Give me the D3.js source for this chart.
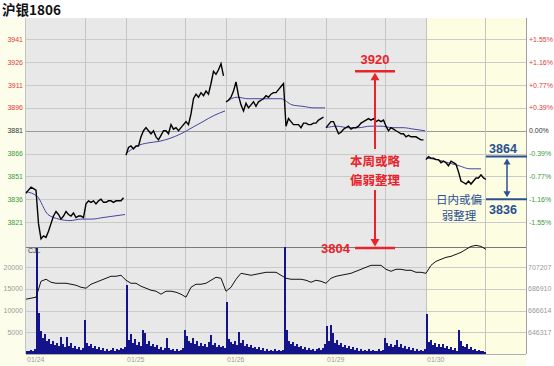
<!DOCTYPE html>
<html>
<head>
<meta charset="utf-8">
<script src="https://cdn.jsdelivr.net/npm/d3@7/dist/d3.min.js"></script>
<style>
  body { margin: 0; background: #fff; }
  svg { display: block; font-family: "Liberation Sans", Arial, sans-serif; }
</style>
</head>
<body>
<svg id="chart" width="554" height="366"></svg>
<script>
  // ---- data ----
  var days = ["01/24", "01/25", "01/26", "01/29", "01/30"];
  var prevClose = 3881;
  var priceTicks = [3821, 3836, 3851, 3866, 3881, 3896, 3911, 3926, 3941];
  var pctLabels = ["-1.55%", "-1.16%", "-0.77%", "-0.39%", "0.00%", "+0.39%", "+0.77%", "+1.16%", "+1.55%"];
  var volTicks = [5000, 10000, 15000, 20000];
  var oiTicks = [646317, 666614, 686910, 707207];

  // price, one value every 2.5 minutes-slots, one array per day
  var price = [
    [3840,3842,3844,3843,3842,3820,3810,3812,3811,3815,3820,3825,3828,3826,3823,3825,3828,3826,3825,3827,
     3824,3825,3825,3824,3833,3835,3834,3835,3833,3835,3836,3834,3834,3835,3835,3834,3835,3835,3835,3837],
    [3865,3870,3871,3869,3871,3871,3877,3881,3883,3881,3879,3881,3877,3875,3878,3881,3881,3879,3885,3882,
     3883,3881,3883,3885,3887,3885,3892,3902,3905,3903,3906,3904,3907,3905,3912,3920,3918,3921,3925,3917],
    [3900,3901,3903,3907,3913,3904,3898,3894,3899,3896,3898,3900,3897,3900,3901,3902,3904,3903,3905,3906,
     3906,3908,3910,3912,3884,3889,3887,3885,3885,3885,3883,3886,3886,3885,3885,3886,3886,3888,3889,3890],
    [3883,3885,3887,3887,3883,3879,3880,3882,3883,3884,3882,3883,3883,3884,3886,3887,3888,3889,3888,3889,
     3887,3888,3887,3888,3884,3881,3883,3882,3881,3880,3879,3879,3877,3878,3877,3877,3877,3876,3875,3875],
    [3862,3864,3863,3863,3862,3862,3860,3861,3860,3858,3861,3860,3859,3854,3848,3847,3846,3848,3846,3848,
     3850,3850,3852,3850,3849]
  ];
  var priceStep = 2.5;

  // average price, one value every 11 slots
  var avgPrice = [
    [3841,3838,3826,3823,3822,3823,3823,3824,3825,3826],
    [3866,3871,3873,3874,3876,3879,3883,3887,3891,3894],
    [3900,3903,3902,3902,3902,3902,3898,3897,3896,3896],
    [3883,3884,3883,3883,3884,3884,3883,3883,3882,3881],
    [3863,3862,3860,3858,3856,3856]
  ];
  var avgStep = 11;

  // volume, one bar every 2 slots
  var volume = [
    [800,600,900,700,1200,24500,9400,5200,3800,4600,2900,3500,2400,3100,2000,2600,1800,3900,2200,1500,
     3900,1800,2500,1400,1900,1200,1600,1000,1300,7800,2600,1800,2200,1400,1900,1100,1500,900,1300,800,
     1200,700,1000,1300,800,1100,900,1400,1100,1600],
    [15900,3200,4500,2600,3400,2100,2800,1900,5500,4800,2400,3100,1800,2300,1500,2000,1200,1600,1000,1400,
     3700,1300,900,1200,800,1100,700,1000,1300,5500,4200,3100,2500,3800,2200,3000,1800,2600,1900,2300,
     1600,2800,4400,2000,2500,1700,2100,1500,1900,1300],
    [12000,3500,2800,2200,2900,2000,5000,2600,3200,1900,2400,1600,2000,1300,1700,1100,1500,900,1300,800,
     1200,700,1000,800,1100,700,900,600,1000,25000,5500,3000,2200,2700,1800,2300,1500,1900,1200,1600,
     1000,1400,900,1200,800,1100,1400,900,1300,2400],
    [6400,3000,6700,4800,2600,3200,2000,2600,1600,2100,1300,1800,1100,1500,900,1300,800,1200,700,1000,
     800,1100,700,900,600,800,1100,700,900,3700,2500,1800,2300,1500,2000,3200,1700,2200,1400,1800,
     1100,1500,900,1300,800,1200,700,1000,800,1100],
    [9200,2800,3200,2100,2600,1700,2200,1500,2400,1300,1800,1100,1600,900,1400,800,5500,3100,1900,1500,
     2200,1200,1600,900,1200,700,1000,600,800,500]
  ];
  var volStep = 2;

  // open interest, one value every 5 slots over the whole week
  var openInt = [
    677344,678277,679211,694142,696008,693209,692276,692276,692276,691342,
    690409,688543,687610,691342,693209,695075,696942,698808,698808,699741,
    695075,692276,692276,689476,687610,685743,684810,682010,684810,684810,
    683877,682010,679211,688543,691342,691342,692276,695075,697875,696942,
    684810,688543,696008,701607,700674,699741,700674,701607,702541,702541,
    702541,699741,696942,696008,696008,696008,695075,693209,695075,694142,
    692276,696942,698808,699741,700674,701607,703474,705340,707207,709073,
    709073,709073,705340,703474,705340,705340,704407,704407,702541,702541,
    701607,709073,712806,714672,716539,717472,719338,721205,724004,726804,
    727737,726804,724004
  ];
  var oiStep = 5;

  // ---- layout ----
  var slotsPerDay = 100, nightSplit = 59;
  var left = 26, right = 526, plotTop = 18, mid = 246.5, bottom = 354;
  var svg = d3.select("#chart");

  var x = d3.scaleLinear().domain([0, slotsPerDay * days.length]).range([left, right]);
  var y = d3.scaleLinear().domain([3805, 3955]).range([mid, plotTop]);
  var yVol = d3.scaleLinear().domain([0, 24800]).range([bottom, mid]).clamp(true);
  var oiStepTick = oiTicks[1] - oiTicks[0];
  var yOi = d3.scaleLinear().domain([oiTicks[0] - oiStepTick, oiTicks[3]])
      .range([yVol(0), yVol(volTicks[3])]);

  // backgrounds
  svg.append("rect").attr("x", 0).attr("y", plotTop).attr("width", left).attr("height", 366 - plotTop).attr("fill", "#fdfdeb");
  svg.append("rect").attr("x", 0).attr("y", bottom).attr("width", right).attr("height", 366 - bottom).attr("fill", "#fdfdeb");
  svg.append("rect").attr("x", left).attr("y", plotTop).attr("width", x(400) - left).attr("height", bottom - plotTop).attr("fill", "#e8e8e8");
  svg.append("rect").attr("x", x(400)).attr("y", plotTop).attr("width", right - x(400)).attr("height", bottom - plotTop).attr("fill", "#fdfde2");

  // grid
  var grid = svg.append("g").attr("shape-rendering", "crispEdges");
  grid.selectAll(".hp").data(priceTicks).enter().append("line")
      .attr("x1", left).attr("x2", right)
      .attr("y1", function(d) { return Math.round(y(d)) + 0.5; })
      .attr("y2", function(d) { return Math.round(y(d)) + 0.5; })
      .attr("stroke", function(d) { return d === prevClose ? "#9a9a9a" : "#cacaca"; });
  grid.selectAll(".hv").data(volTicks).enter().append("line")
      .attr("x1", left).attr("x2", right)
      .attr("y1", function(d) { return Math.round(yVol(d)) + 0.5; })
      .attr("y2", function(d) { return Math.round(yVol(d)) + 0.5; })
      .attr("stroke", "#cacaca");
  var vlines = [];
  days.forEach(function(d, i) {
    if (i > 0) vlines.push(i * slotsPerDay);
    vlines.push(i * slotsPerDay + nightSplit);
  });
  grid.selectAll(".v").data(vlines).enter().append("line")
      .attr("x1", function(d) { return Math.round(x(d)) + 0.5; })
      .attr("x2", function(d) { return Math.round(x(d)) + 0.5; })
      .attr("y1", plotTop).attr("y2", bottom)
      .attr("stroke", "#c4c4c4");
  grid.append("line").attr("x1", left).attr("x2", right).attr("y1", Math.round(mid) + 0.5).attr("y2", Math.round(mid) + 0.5).attr("stroke", "#7a7a7a");
  grid.append("line").attr("x1", right + 0.5).attr("x2", right + 0.5).attr("y1", plotTop).attr("y2", bottom).attr("stroke", "#a0a0a0");
  grid.append("line").attr("x1", left - 0.5).attr("x2", left - 0.5).attr("y1", plotTop).attr("y2", bottom).attr("stroke", "#c4c4c4");
  grid.append("line").attr("x1", left).attr("x2", right).attr("y1", bottom + 0.5).attr("y2", bottom + 0.5).attr("stroke", "#b0b0b0");

  // axis labels
  var tickFont = 7;
  function priceColor(d) { return d > prevClose ? "#e03a3a" : d < prevClose ? "#3c9a3c" : "#333"; }
  svg.selectAll(".pl").data(priceTicks).enter().append("text")
      .attr("x", left - 3).attr("y", function(d) { return y(d) + 2.5; })
      .attr("text-anchor", "end").attr("font-size", tickFont)
      .attr("fill", priceColor)
      .text(function(d) { return d; });
  svg.selectAll(".pr").data(priceTicks).enter().append("text")
      .attr("x", right + 3).attr("y", function(d) { return y(d) + 2.5; })
      .attr("font-size", tickFont)
      .attr("fill", priceColor)
      .text(function(d, i) { return pctLabels[i]; });
  svg.selectAll(".vl").data(volTicks).enter().append("text")
      .attr("x", left - 3).attr("y", function(d) { return yVol(d) + 2.5; })
      .attr("text-anchor", "end").attr("font-size", tickFont).attr("fill", "#9a9a9a")
      .text(function(d) { return d; });
  svg.selectAll(".vr").data(oiTicks).enter().append("text")
      .attr("x", right + 2).attr("y", function(d) { return yOi(d) + 2.5; })
      .attr("font-size", tickFont).attr("fill", "#9a9a9a")
      .text(function(d) { return d; });
  svg.selectAll(".xl").data(days).enter().append("text")
      .attr("x", function(d, i) { return x(i * slotsPerDay) + 1; })
      .attr("y", bottom + 7.5)
      .attr("font-size", tickFont).attr("fill", "#9a9a9a")
      .text(function(d) { return d; });

  // volume bars
  var bars = [];
  volume.forEach(function(arr, di) {
    arr.forEach(function(v, i) { bars.push({ s: di * slotsPerDay + i * volStep, v: v }); });
  });
  svg.append("g").attr("shape-rendering", "crispEdges").selectAll("rect").data(bars).enter().append("rect")
      .attr("x", function(d) { return x(d.s); })
      .attr("width", x(volStep) - x(0))
      .attr("y", function(d) { return yVol(d.v); })
      .attr("height", function(d) { return yVol(0) - yVol(d.v); })
      .attr("fill", "#14148a");

  svg.append("text").attr("x", left + 2).attr("y", mid + 6.5)
      .attr("font-size", 7).attr("fill", "#333").text("CJL");

  // open interest
  svg.append("path")
      .attr("d", d3.line()
        .x(function(d, i) { return x(i * oiStep); })
        .y(function(d) { return yOi(d); })(openInt))
      .attr("fill", "none").attr("stroke", "#111").attr("stroke-width", 1);

  // average lines and price lines, one segment per day
  price.forEach(function(arr, di) {
    svg.append("path")
        .attr("d", d3.line()
          .x(function(d, i) { return x(di * slotsPerDay + i * avgStep); })
          .y(function(d) { return y(d); })
          .curve(d3.curveMonotoneX)(avgPrice[di]))
        .attr("fill", "none").attr("stroke", "#4545a5").attr("stroke-width", 1);
  });
  price.forEach(function(arr, di) {
    svg.append("path")
        .attr("d", d3.line()
          .x(function(d, i) { return x(di * slotsPerDay + i * priceStep); })
          .y(function(d) { return y(d); })(arr))
        .attr("fill", "none").attr("stroke", "#000").attr("stroke-width", 1.4)
        .attr("stroke-linejoin", "miter");
  });

  // title
  svg.append("text").attr("x", 2).attr("y", 15)
      .attr("font-family", "'Noto Sans CJK SC', sans-serif")
      .attr("font-size", 13.5).attr("font-weight", "bold").attr("fill", "#111")
      .text("沪银1806");

  // red annotation: weekly range
  var red = "#e8232a";
  var ax = 375, hi = 3920, lo = 3804;
  svg.append("line").attr("x1", ax - 20).attr("x2", ax + 20).attr("y1", y(hi)).attr("y2", y(hi))
      .attr("stroke", red).attr("stroke-width", 2.5);
  svg.append("line").attr("x1", ax - 20).attr("x2", ax + 20).attr("y1", y(lo)).attr("y2", y(lo))
      .attr("stroke", red).attr("stroke-width", 2.5);
  svg.append("line").attr("x1", ax).attr("x2", ax).attr("y1", y(hi) + 6).attr("y2", 149)
      .attr("stroke", red).attr("stroke-width", 2);
  svg.append("line").attr("x1", ax).attr("x2", ax).attr("y1", 190).attr("y2", y(lo) - 6)
      .attr("stroke", red).attr("stroke-width", 2);
  svg.append("path").attr("d", ["M", ax, y(hi) + 1.5, "L", ax - 4.5, y(hi) + 9, "L", ax + 4.5, y(hi) + 9, "Z"].join(" "))
      .attr("fill", red);
  svg.append("path").attr("d", ["M", ax, y(lo) - 1.5, "L", ax - 4.5, y(lo) - 9, "L", ax + 4.5, y(lo) - 9, "Z"].join(" "))
      .attr("fill", red);
  svg.append("text").attr("x", ax).attr("y", y(hi) - 7).attr("text-anchor", "middle")
      .attr("font-size", 13).attr("font-weight", "bold").attr("fill", red).text(hi);
  svg.append("text").attr("x", ax - 25).attr("y", y(lo) + 5).attr("text-anchor", "end")
      .attr("font-size", 13).attr("font-weight", "bold").attr("fill", red).text(lo);
  svg.append("text").attr("x", ax).attr("y", 166).attr("text-anchor", "middle")
      .attr("font-family", "'Noto Sans CJK SC', sans-serif")
      .attr("font-size", 12.5).attr("font-weight", "bold").attr("fill", red).text("本周或略");
  svg.append("text").attr("x", ax).attr("y", 184.5).attr("text-anchor", "middle")
      .attr("font-family", "'Noto Sans CJK SC', sans-serif")
      .attr("font-size", 12.5).attr("font-weight", "bold").attr("fill", red).text("偏弱整理");

  // blue annotation: intraday range
  var blue = "#2b4f93";
  var bx = 507, bhi = 3864, blo = 3836;
  svg.append("line").attr("x1", 486).attr("x2", right + 1).attr("y1", y(bhi)).attr("y2", y(bhi))
      .attr("stroke", blue).attr("stroke-width", 2);
  svg.append("line").attr("x1", 486).attr("x2", right + 1).attr("y1", y(blo)).attr("y2", y(blo))
      .attr("stroke", blue).attr("stroke-width", 2);
  svg.append("line").attr("x1", bx).attr("x2", bx).attr("y1", y(bhi) + 5).attr("y2", y(blo) - 5)
      .attr("stroke", blue).attr("stroke-width", 1.5);
  svg.append("path").attr("d", ["M", bx, y(bhi) + 2, "L", bx - 3.5, y(bhi) + 8, "L", bx + 3.5, y(bhi) + 8, "Z"].join(" "))
      .attr("fill", blue);
  svg.append("path").attr("d", ["M", bx, y(blo) - 2, "L", bx - 3.5, y(blo) - 8, "L", bx + 3.5, y(blo) - 8, "Z"].join(" "))
      .attr("fill", blue);
  svg.append("text").attr("x", 503).attr("y", y(bhi) - 4).attr("text-anchor", "middle")
      .attr("font-size", 12.5).attr("font-weight", "bold").attr("fill", blue).text(bhi);
  svg.append("text").attr("x", 503).attr("y", y(blo) + 15).attr("text-anchor", "middle")
      .attr("font-size", 12.5).attr("font-weight", "bold").attr("fill", blue).text(blo);
  svg.append("text").attr("x", 459).attr("y", 204).attr("text-anchor", "middle")
      .attr("font-family", "'Noto Sans CJK SC', sans-serif")
      .attr("font-size", 11.5).attr("fill", blue).text("日内或偏");
  svg.append("text").attr("x", 459).attr("y", 219.5).attr("text-anchor", "middle")
      .attr("font-family", "'Noto Sans CJK SC', sans-serif")
      .attr("font-size", 11.5).attr("fill", blue).text("弱整理");
</script>
</body>
</html>
